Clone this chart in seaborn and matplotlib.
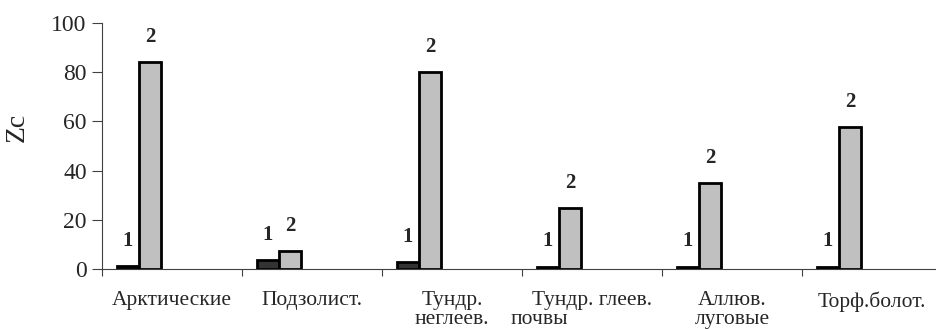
import matplotlib
matplotlib.use("Agg")
import matplotlib.pyplot as plt
import pandas as pd
import seaborn as sns

# Soil types and Zc values for the two series
soils = ["Арктические", "Подзолист.", "Тундр.\nнеглеев.", "Тундр. глеев.", "Аллюв.\nлуговые", "Торф.болот."]
series_1 = [1.3, 3.6, 2.8, 1.0, 1.0, 1.0]
series_2 = [84, 7.3, 80, 24.8, 35, 57.7]
series_names = ["1", "2"]

# Excel-style grouping leaves empty slots to the right of the bars
hue_slots = ["1", "2", "3", "4", "5"]
palette = {"1": "#333333", "2": "#c0c0c0", "3": "white", "4": "white", "5": "white"}

df = pd.DataFrame({
    "soil": soils * 2,
    "series": [series_names[0]] * len(soils) + [series_names[1]] * len(soils),
    "Zc": series_1 + series_2,
})

sns.set_style("white")
plt.rcParams["font.family"] = ["Liberation Serif", "DejaVu Serif"]

fig = plt.figure(figsize=(9.36, 3.29), dpi=100)
ax = fig.add_axes([102 / 936, 60 / 329, 840 / 936, 246 / 329])

sns.barplot(
    data=df, x="soil", y="Zc", hue="series", hue_order=hue_slots, order=soils,
    palette=palette, width=0.785, edgecolor="black", linewidth=2.0,
    legend=False, ax=ax, saturation=1,
)

for container, name in zip(ax.containers, series_names):
    ax.bar_label(container, labels=[name] * len(container), padding=11,
                 fontsize=15, fontweight="bold")

ax.set_xlim(-0.5, len(soils) - 0.5)
ax.set_ylim(0, 100)
ax.set_yticks(range(0, 101, 20))
ax.set_xticks([i - 0.5 for i in range(len(soils) + 1)], minor=True)
ax.set_xticks(range(len(soils)))
ax.set_xticklabels(soils, fontsize=15.5, linespacing=1.0)
ax.tick_params(axis="x", which="major", length=0, pad=16)
ax.tick_params(axis="x", which="minor", length=5, width=0.8, color="#404040", direction="out", bottom=True)
ax.tick_params(axis="y", labelsize=17, length=7, width=0.8, color="#404040", direction="out", left=True, pad=4)

ax.set_xlabel("")
ax.set_ylabel("Zc", fontsize=20)
ax.yaxis.set_label_coords(-0.086, 0.577)

for side in ["top", "right"]:
    ax.spines[side].set_visible(False)
for side in ["left", "bottom"]:
    ax.spines[side].set_color("#404040")
    ax.spines[side].set_linewidth(0.8)

# stray second line of the "Тундр. глеев." label, offset as in the original
fig.text(539 / 936, 5 / 329, "почвы", fontsize=15.5, ha="center", va="baseline")

fig.savefig("out.png", dpi=100)
